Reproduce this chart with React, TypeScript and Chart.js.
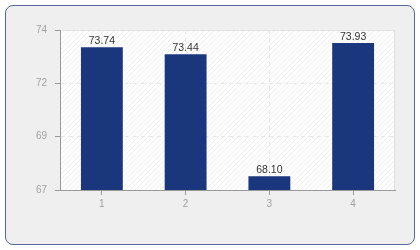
import React, { useEffect, useRef } from "react";
import { Chart, registerables } from "chart.js";

Chart.register(...registerables);

const categories = ["1", "2", "3", "4"];
const values = [73.74, 73.44, 68.1, 73.93];
const valueLabels = ["73.74", "73.44", "68.10", "73.93"];
const yMin = 67.5;
const yMax = 74.5;
const yTickLabels = ["67", "69", "72", "74"];

const FONT = "'Liberation Sans', Arial, sans-serif";

const plotBg = {
  id: "plotBg",
  beforeDraw(chart: any) {
    const { ctx, chartArea } = chart;
    const { left, top, right, bottom } = chartArea;
    ctx.save();
    ctx.fillStyle = "#ffffff";
    ctx.fillRect(left, top, right - left, bottom - top);
    const p = document.createElement("canvas");
    p.width = 5;
    p.height = 5;
    const pc = p.getContext("2d")!;
    pc.strokeStyle = "#eeeeee";
    pc.lineWidth = 1;
    pc.beginPath();
    pc.moveTo(0, 5);
    pc.lineTo(5, 0);
    pc.stroke();
    const pat = ctx.createPattern(p, "repeat");
    if (pat) {
      ctx.fillStyle = pat;
      ctx.fillRect(left, top, right - left, bottom - top);
    }
    ctx.strokeStyle = "#dedede";
    ctx.lineWidth = 1;
    ctx.beginPath();
    ctx.moveTo(left, top + 0.5);
    ctx.lineTo(right - 0.5, top + 0.5);
    ctx.lineTo(right - 0.5, bottom);
    ctx.stroke();
    ctx.restore();
  },
};

const valueLabelPlugin = {
  id: "valueLabels",
  afterDatasetsDraw(chart: any) {
    const { ctx } = chart;
    const meta = chart.getDatasetMeta(0);
    ctx.save();
    ctx.font = `10.5px ${FONT}`;
    ctx.fillStyle = "#333333";
    ctx.textAlign = "center";
    ctx.textBaseline = "bottom";
    meta.data.forEach((bar: any, i: number) => {
      ctx.fillText(valueLabels[i], bar.x, bar.y - 1);
    });
    ctx.restore();
  },
};

export default function App() {
  const ref = useRef<HTMLCanvasElement>(null);
  useEffect(() => {
    if (!ref.current) return;
    const chart = new Chart(ref.current, {
      type: "bar",
      data: {
        labels: categories,
        datasets: [
          {
            data: values,
            backgroundColor: "#1a377d",
            borderWidth: 0,
            barPercentage: 0.5,
            categoryPercentage: 1,
          },
        ],
      },
      options: {
        responsive: false,
        animation: false,
        layout: { padding: { top: 30, right: 25, left: 0, bottom: 0 } },
        plugins: { legend: { display: false }, tooltip: { enabled: false } },
        scales: {
          x: {
            grid: {
              offset: false,
              color: "#e6e6e6",
              tickColor: "#999999",
              tickLength: 5,
              z: 0,
            },
            border: { color: "#999999", width: 1, dash: [4, 4] },
            ticks: {
              color: "#a0a0a0",
              font: { family: FONT, size: 10 },
              padding: 3,
            },
            afterFit: (s: any) => {
              s.height = 60;
            },
          },
          y: {
            min: yMin,
            max: yMax,
            afterBuildTicks: (s: any) => {
              s.ticks = yTickLabels.map((_, i) => ({
                value: yMin + (i * (yMax - yMin)) / (yTickLabels.length - 1),
              }));
            },
            grid: { color: "#e6e6e6", tickColor: "#999999", tickLength: 5 },
            border: { color: "#999999", width: 1, dash: [4, 4] },
            ticks: {
              color: "#a0a0a0",
              font: { family: FONT, size: 10 },
              padding: 8,
              callback: (_v: any, i: number) => yTickLabels[i],
            },
            afterFit: (s: any) => {
              s.width = 60;
            },
          },
        },
      },
      plugins: [plotBg, valueLabelPlugin],
    });
    return () => chart.destroy();
  }, []);
  return (
    <div style={{ position: "fixed", left: 0, top: 0, width: 420, height: 250 }}>
      <div
        style={{
          position: "absolute",
          left: 5,
          top: 5,
          width: 408,
          height: 238,
          border: "1px solid #56679a",
          borderRadius: 8,
          background: "#efefef",
        }}
      />
      <canvas
        ref={ref}
        width={420}
        height={250}
        style={{ position: "absolute", left: 0, top: 0 }}
      />
    </div>
  );
}
